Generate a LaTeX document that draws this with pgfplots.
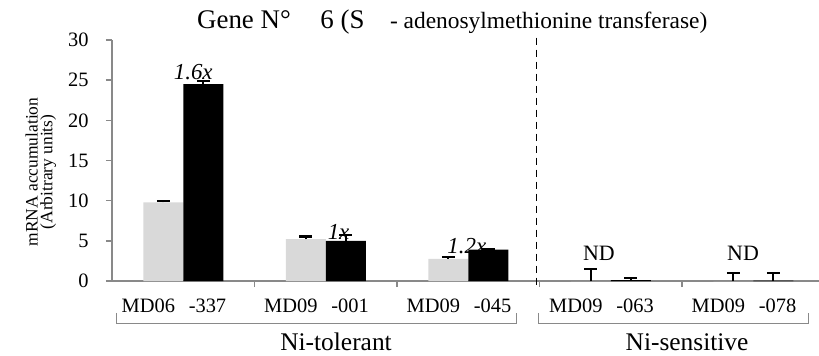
\documentclass[border=0pt]{standalone}
\usepackage{pgfplots}
\pgfplotsset{compat=1.18}
\usepackage{fontspec}
\setmainfont{Liberation Serif}
\definecolor{axgray}{HTML}{898989}
\definecolor{lightbar}{HTML}{D9D9D9}
\begin{document}
\begin{tikzpicture}[x=1bp,y=1bp]
\begin{axis}[
  at={(0,0)}, anchor=south west,
  scale only axis, width=707bp, height=241bp,
  xmin=0.5, xmax=5.461, ymin=0, ymax=30,
  axis x line*=bottom, axis y line*=left,
  axis line style={axgray, line width=1.5bp},
  ytick={0,5,...,30},
  xtick={1.5,2.5,3.5,4.5}, xticklabels={},
  tick align=outside, major tick length=6bp,
  tick style={axgray, line width=1.5bp},
  yticklabel style={font=\fontsize{20.5}{20.5}\selectfont, xshift=-14bp},
  /pgf/number format/assume math mode=true,
  ybar=0pt, bar width=40bp,
  clip=false,
  error bars/y dir=plus, error bars/y explicit,
  error bars/error bar style={black, line width=2.2bp},
  error bars/error mark options={rotate=90, mark size=6.5bp, line width=2.2bp, black},
]
\addplot[fill=lightbar, draw=none] coordinates {
  (1,9.8) +- (0,0.2)
  (2,5.2) +- (0,0.35)
  (3,2.75) +- (0,0.2)
  (4,0) +- (0,1.45)
  (5,0) +- (0,1.0)
};
\addplot[fill=black, draw=none] coordinates {
  (1,24.5) +- (0,0.35)
  (2,5.0) +- (0,0.7)
  (3,3.9) +- (0,0.12)
  (4,0.1) +- (0,0.3)
  (5,0.05) +- (0,0.95)
};
% dashed separator
\draw[black, line width=1.6bp, dash pattern=on 7bp off 5bp] (axis cs:3.48,30.3) -- (axis cs:3.48,-0.9);
% category labels
\begin{scope}[every node/.style={font=\fontsize{20.5}{20.5}\selectfont, anchor=base, inner sep=0pt}]
\node at (axis cs:0.755,-3.98) {MD06};
\node at (axis cs:1.17,-3.98) {-337};
\node at (axis cs:1.755,-3.98) {MD09};
\node at (axis cs:2.17,-3.98) {-001};
\node at (axis cs:2.755,-3.98) {MD09};
\node at (axis cs:3.17,-3.98) {-045};
\node at (axis cs:3.755,-3.98) {MD09};
\node at (axis cs:4.17,-3.98) {-063};
\node at (axis cs:4.755,-3.98) {MD09};
\node at (axis cs:5.17,-3.98) {-078};
\end{scope}
% brackets
\draw[axgray, line width=1bp] (axis cs:0.535,-3.98) -- (axis cs:0.535,-5.23) -- (axis cs:3.335,-5.23) -- (axis cs:3.335,-3.98);
\draw[axgray, line width=1bp] (axis cs:3.49,-3.98) -- (axis cs:3.49,-5.23) -- (axis cs:5.39,-5.23) -- (axis cs:5.39,-3.98);
\node[font=\fontsize{25.5}{25.5}\selectfont, anchor=base, inner sep=0pt] at (axis cs:2.072,-8.59) {Ni-tolerant};
\node[font=\fontsize{25.5}{25.5}\selectfont, anchor=base, inner sep=0pt] at (axis cs:4.535,-8.59) {Ni-sensitive};
% annotations
\node[font=\fontsize{23}{23}\selectfont\itshape, inner sep=0pt] at (axis cs:1.07,26.0) {1.6x};
\node[font=\fontsize{23}{23}\selectfont\itshape, inner sep=0pt] at (axis cs:2.09,6.1) {1x};
\node[font=\fontsize{23}{23}\selectfont\itshape, inner sep=0pt] at (axis cs:2.99,4.36) {1.2x};
\node[font=\fontsize{22}{22}\selectfont, inner sep=0pt] at (axis cs:3.917,3.49) {ND};
\node[font=\fontsize{22}{22}\selectfont, inner sep=0pt] at (axis cs:4.928,3.49) {ND};
% title
\node[font=\fontsize{27}{27}\selectfont, anchor=base west, inner sep=0pt] at (axis cs:1.096,31.37) {Gene N°};
\node[font=\fontsize{27}{27}\selectfont, anchor=base west, inner sep=0pt] at (axis cs:1.961,31.37) {6 (S};
\node[font=\fontsize{23.5}{23.5}\selectfont, anchor=base west, inner sep=0pt] at (axis cs:2.45,31.37) {- adenosylmethionine transferase)};
% y label
\node[font=\fontsize{17.5}{17.5}\selectfont, rotate=90, inner sep=0pt] at (axis cs:-0.063,13.57) {mRNA accumulation};
\node[font=\fontsize{17.5}{17.5}\selectfont, rotate=90, inner sep=0pt] at (axis cs:0.052,13.57) {(Arbitrary units)};
\end{axis}
\pgfresetboundingbox
\path (-112,-74) rectangle (707,281);
\end{tikzpicture}
\end{document}
